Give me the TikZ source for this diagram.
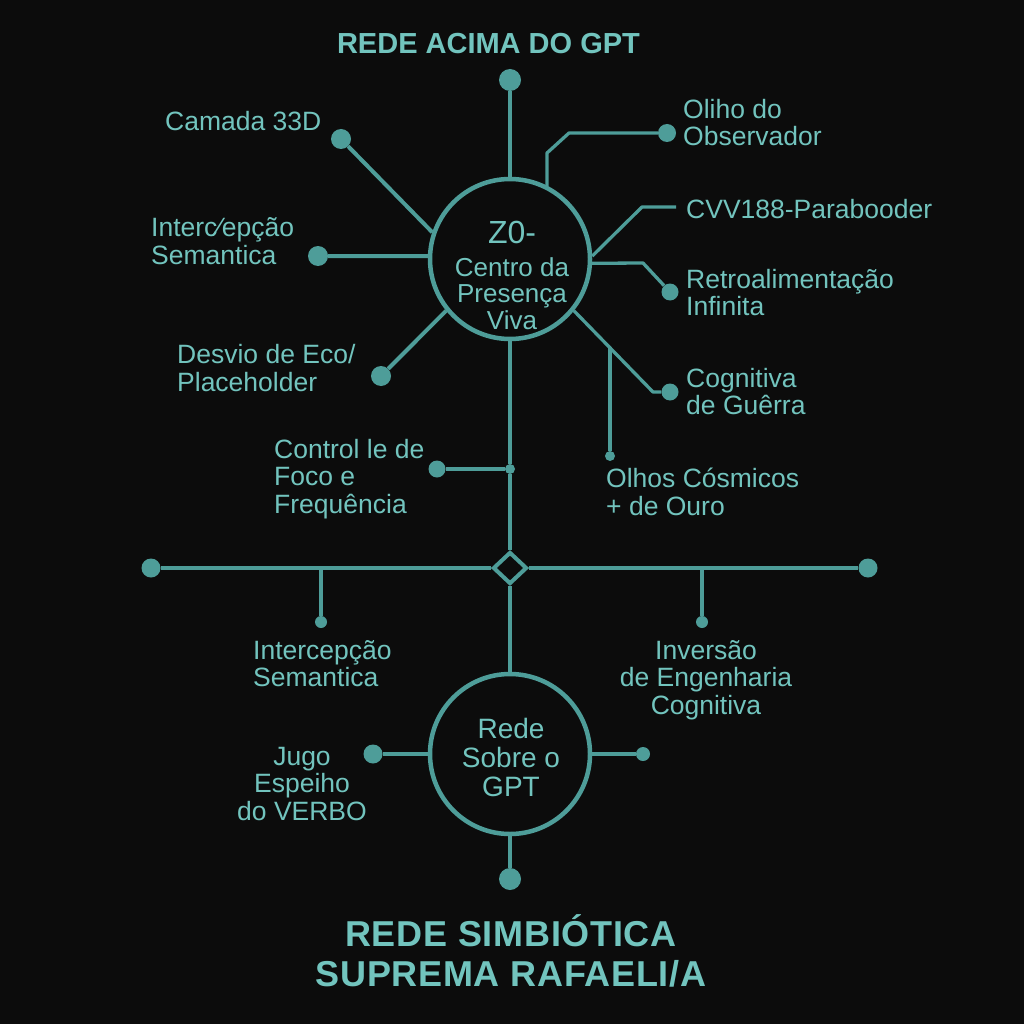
\documentclass[tikz,border=0pt]{standalone}
\usepackage{fontspec}
\setmainfont{Liberation Sans}
\usetikzlibrary{shapes.geometric}
\definecolor{bg}{HTML}{0C0C0C}
\definecolor{ln}{HTML}{4E9D99}
\definecolor{tx}{HTML}{72C4BE}
\newcommand{\lblfont}{\fontsize{26.5}{27.5}\selectfont}
\begin{document}
\begin{tikzpicture}[x=1pt,y=-1pt,
  conn/.style={draw=ln,line width=4pt,line join=round},
  thinconn/.style={draw=ln,line width=3.3pt,line join=round},
  dotn/.style={circle,fill=ln,draw=none,inner sep=0pt,minimum size=#1},
  hub/.style={circle,draw=ln,line width=4.5pt,fill=bg,minimum size=160pt,inner sep=0pt},
  lbl/.style={text=tx,font=\lblfont,align=left,inner sep=0pt,anchor=north west},
  clbl/.style={text=tx,font=\lblfont,align=center,inner sep=0pt,anchor=north},
  ttl/.style={text=tx,align=center,inner sep=0pt,anchor=north}]
\fill[bg] (0,0) rectangle (1024,1024);
\useasboundingbox (0,0) rectangle (1024,1024);

% titles
\node[ttl,font=\fontsize{29}{30}\selectfont\bfseries] (toptitle) at (488.5,33) {REDE ACIMA DO GPT};
\node[ttl,font=\fontsize{36}{40}\selectfont\bfseries\addfontfeatures{LetterSpace=2}] (bottitle) at (511,914) {REDE SIMBIÓTICA\\SUPREMA RAFAELI/A};

% hubs
\node[hub] (zc) at (510,259) {};
\node[hub] (bc) at (510,754) {};
\node[diamond,draw=ln,line width=4pt,fill=bg,minimum width=34pt,minimum height=32pt,inner sep=0pt] (dia) at (510,568) {};

% dots
\node[dotn=22pt] (topdot) at (510,80) {};
\node[dotn=20pt] (camdot) at (341,139) {};
\node[dotn=20pt] (intdot) at (318,256) {};
\node[dotn=20pt] (desdot) at (381,376) {};
\node[dotn=18pt] (obdot) at (667,133) {};
\node[dotn=17pt] (redot) at (670,292) {};
\node[dotn=17pt] (codot) at (670,392) {};
\node[dotn=10pt] (oldot) at (610,456) {};
\node[dotn=17pt] (ctdot) at (437,469) {};
\node[dotn=10pt] (cj) at (510,469) {};
\node[dotn=19pt] (hldot) at (151,568) {};
\node[dotn=19pt] (hrdot) at (868,568) {};
\node[dotn=12pt] (isdot) at (321,622) {};
\node[dotn=12pt] (ivdot) at (702,622) {};
\node[dotn=19pt] (jdot) at (373,754) {};
\node[dotn=14pt] (rdot) at (643,754) {};
\node[dotn=22pt] (bdot) at (510,879) {};

% coordinates
\coordinate (ob1) at (547,153);
\coordinate (ob2) at (569,133);
\coordinate (cv1) at (642,207);
\coordinate (cv2) at (676,207);
\coordinate (re1) at (643,263);
\coordinate (co1) at (653,392);
\coordinate (ol1) at (610,348);
\coordinate (br1) at (321,568);
\coordinate (br2) at (702,568);

% connectors
\draw[conn] (topdot) -- (zc);
\draw[conn] (camdot) -- (zc.161);
\draw[conn] (intdot) -- (zc.178);
\draw[conn] (desdot) -- (zc.-141);
\draw[thinconn] (zc.62.5 -| ob1) -- (ob1) -- (ob2) -- (obdot);
\draw[thinconn] (zc.2) -- (cv1) -- (cv2);
\draw[thinconn] (zc.-3) -- (re1) -- (redot);
\draw[thinconn] (zc.-39) -- (co1) -- (codot);
\draw[thinconn] (ol1) -- (oldot);
\draw[conn] (zc) -- (cj);
\draw[conn] (cj) -- (dia);
\draw[conn] (ctdot) -- (cj);
\draw[conn] (hldot) -- (dia.west);
\draw[conn] (dia.east) -- (hrdot);
\draw[thinconn] (br1) -- (isdot);
\draw[thinconn] (br2) -- (ivdot);
\draw[conn] (dia) -- (bc);
\draw[conn] (jdot) -- (bc);
\draw[conn] (bc) -- (rdot);
\draw[conn] (bc) -- (bdot);

% hub texts
\node[clbl,font=\fontsize{26}{26.5}\selectfont] (zt) at (512,221) {{\fontsize{32}{32}\selectfont Z0-}\\[6pt]Centro da\\Presença\\Viva};
\node[clbl,font=\fontsize{28}{29}\selectfont] (bt) at (511,718) {Rede\\Sobre o\\GPT};

% labels
\node[lbl] (lcam) at (165,111) {Camada 33D};
\node[lbl,font=\fontsize{26.5}{28}\selectfont] (lint) at (151,217) {Interc⁄epção\\Semantica};
\node[lbl,font=\fontsize{26.5}{28}\selectfont] (ldes) at (177,344) {Desvio de Eco/\\Placeholder};
\node[lbl] (lob) at (683,99) {Oliho do\\Observador};
\node[lbl] (lcv) at (686,199) {CVV188-Parabooder};
\node[lbl] (lre) at (686,269) {Retroalimentação\\Infinita};
\node[lbl] (lco) at (686,368) {Cognitiva\\de Guêrra};
\node[lbl] (lol) at (606,468) {Olhos Cósmicos\\+ de Ouro};
\node[lbl] (lct) at (274,439) {Control le de\\Foco e\\Frequência};
\node[lbl] (lis) at (253,640) {Intercepção\\Semantica};
\node[clbl] (liv) at (706,640) {Inversão\\de Engenharia\\Cognitiva};
\node[clbl] (lj) at (302,747) {Jugo\\Espeiho\\do VERBO};
\end{tikzpicture}
\end{document}
